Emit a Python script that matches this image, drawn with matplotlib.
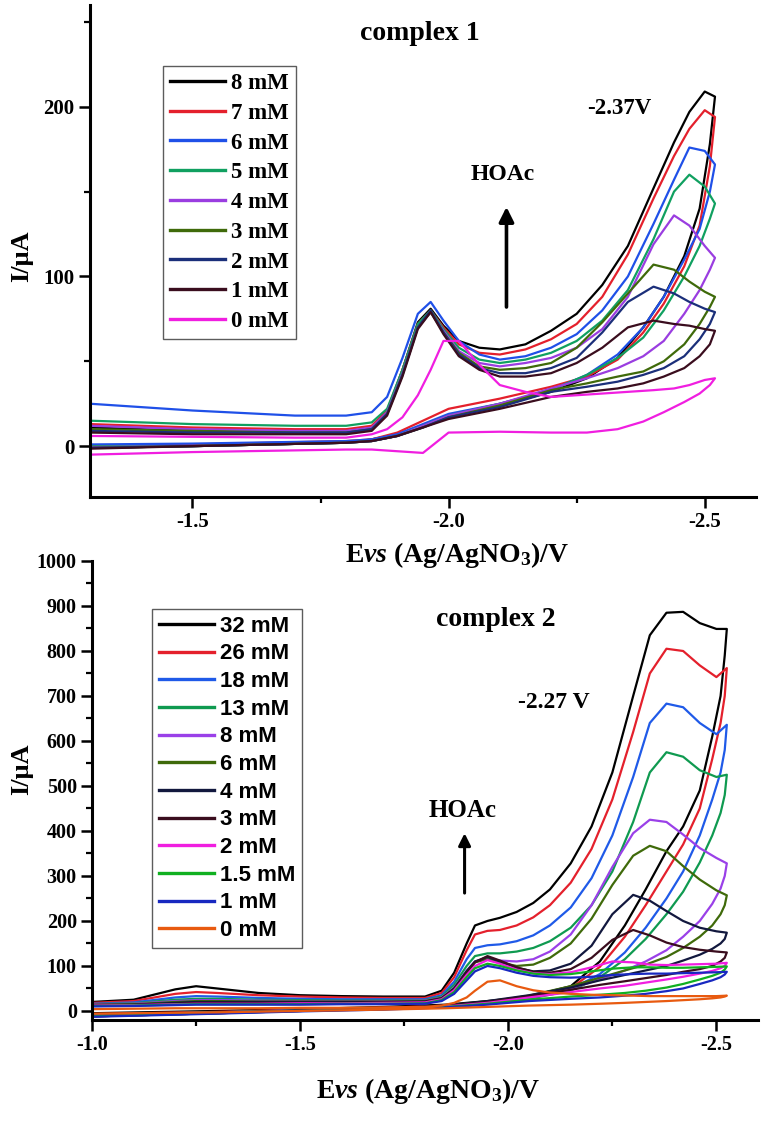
import matplotlib
matplotlib.use("Agg")
import matplotlib.pyplot as plt
from matplotlib.lines import Line2D
from matplotlib.ticker import MultipleLocator, FormatStrFormatter

SERIF = ["Liberation Serif", "DejaVu Serif"]
SANS = ["Liberation Sans", "DejaVu Sans"]

# ---------------- complex 1 (potential grids, V) ----------------
c1_fwd_e = [-1.30, -1.50, -1.70, -1.80, -1.85, -1.88, -1.91, -1.94, -1.965, -1.99, -2.02, -2.06,
            -2.10, -2.15, -2.20, -2.25, -2.30, -2.35, -2.40, -2.44, -2.47, -2.50, -2.52]
c1_rev_e = [-2.52, -2.51, -2.49, -2.46, -2.42, -2.38, -2.33, -2.27, -2.20, -2.10, -2.00, -1.95,
            -1.90, -1.85, -1.80, -1.50, -1.30]

c1_labels = ["8 mM", "7 mM", "6 mM", "5 mM", "4 mM", "3 mM", "2 mM", "1 mM", "0 mM"]
c1_colors = ["#000000", "#e4202c", "#1f50e8", "#10a060", "#9a3de0", "#3f6a0a", "#1b2f7a", "#3a0d1e", "#f01ee0"]

# current, uA (forward = cathodic sweep, reverse = return sweep)
c1_fwd_8 = [11, 9, 8, 8, 10, 20, 45, 73, 81, 71, 62, 58, 57, 60, 68, 78, 95, 118, 152, 179, 197, 209, 206]
c1_fwd_7 = [13, 11, 10, 10, 12, 21, 45, 72, 80, 70, 60, 55, 54, 57, 63, 72, 88, 113, 146, 171, 187, 198, 194]
c1_fwd_6 = [25, 21, 18, 18, 20, 29, 52, 78, 85, 74, 62, 54, 51, 53, 58, 66, 80, 100, 131, 157, 176, 174, 166]
c1_fwd_5 = [15, 13, 12, 12, 14, 22, 45, 72, 80, 69, 58, 51, 49, 51, 55, 62, 74, 92, 122, 150, 160, 153, 143]
c1_fwd_4 = [12, 10, 9, 9, 11, 20, 43, 70, 79, 68, 56, 49, 47, 49, 52, 58, 69, 88, 119, 136, 130, 118, 111]
c1_fwd_3 = [10, 9, 8, 8, 10, 19, 42, 70, 79, 67, 55, 47, 45, 46, 49, 58, 73, 90, 107, 104, 97, 91, 88]
c1_fwd_2 = [9, 8, 8, 8, 10, 19, 42, 70, 80, 67, 54, 46, 43, 43, 46, 52, 67, 85, 94, 90, 85, 81, 79]
c1_fwd_1 = [8, 7, 7, 7, 9, 18, 41, 69, 79, 66, 53, 45, 41, 41, 43, 49, 58, 70, 74, 72, 71, 69, 68]
c1_fwd_0 = [6, 5.5, 5, 5, 7, 10, 17, 30, 45, 62, 62, 48, 36, 32, 29, 30, 31, 32, 33, 34, 36, 39, 40]

c1_rev_8 = [206, 178, 140, 112, 88, 70, 52, 40, 32, 24, 17, 12, 7, 4, 2, 0, -1]
c1_rev_7 = [194, 165, 130, 106, 84, 67, 51, 41, 35, 28, 22, 15, 8, 4, 3, 1, 0]
c1_rev_6 = [166, 150, 128, 110, 88, 70, 54, 42, 33, 25, 19, 13, 7, 4, 3, 1.5, 1]
c1_rev_5 = [143, 134, 118, 100, 80, 64, 52, 42, 33, 25, 18, 12, 6, 3, 2, 0, 0]
c1_rev_4 = [111, 104, 92, 78, 62, 53, 46, 40, 34, 25, 18, 12, 6, 3, 2, 0, -0.5]
c1_rev_3 = [88, 82, 72, 60, 50, 44, 41, 37, 33, 24, 17, 11, 6, 3, 2, 0, -1]
c1_rev_2 = [79, 72, 63, 53, 46, 42, 38, 35, 32, 23, 17, 11, 6, 3, 2, 0, -1]
c1_rev_1 = [68, 60, 53, 46, 41, 37, 34, 32, 29, 22, 16, 11, 6, 3, 2, 0, -1.5]
c1_rev_0 = [40, 36, 31, 26, 20, 14.5, 10, 8, 8, 8.5, 8, -4, -3, -2, -2, -3.5, -5]

# ---------------- complex 2 ----------------
c2_fwd_e = [-1.00, -1.10, -1.20, -1.25, -1.30, -1.40, -1.50, -1.60, -1.70, -1.80, -1.84, -1.87, -1.90,
            -1.92, -1.95, -1.98, -2.02, -2.06, -2.10, -2.15, -2.20, -2.25, -2.30, -2.34, -2.38, -2.42,
            -2.46, -2.50, -2.525]
c2_rev_e = [-2.525, -2.52, -2.51, -2.49, -2.46, -2.42, -2.38, -2.33, -2.28, -2.22, -2.15, -2.05,
            -1.95, -1.85, -1.70, -1.50, -1.30, -1.00]

c2_labels = ["32 mM", "26 mM", "18 mM", "13 mM", "8 mM", "6 mM", "4 mM", "3 mM", "2 mM",
             "1.5 mM", "1 mM", "0 mM"]
c2_colors = ["#000000", "#e4202c", "#1f5ae8", "#0f9a50", "#9a40e8", "#3f6a0a", "#12183e", "#3a0d1e",
             "#f01ee0", "#10b020", "#1828c0", "#e85a10"]

c2_fwd_32 = [20, 25, 48, 55, 50, 40, 35, 33, 32, 32, 45, 85, 150, 190, 200, 207, 220, 240, 270, 328,
             410, 530, 700, 835, 885, 887, 862, 849, 849]
c2_fwd_26 = [18, 22, 38, 42, 40, 35, 32, 30, 29, 29, 40, 75, 135, 170, 178, 180, 190, 208, 235, 285,
             360, 470, 620, 750, 805, 800, 768, 742, 762]
c2_fwd_18 = [16, 19, 30, 33, 32, 29, 27, 26, 26, 26, 35, 65, 115, 140, 146, 148, 155, 168, 190, 230,
             295, 390, 520, 640, 683, 675, 640, 615, 636]
c2_fwd_13 = [15, 17, 25, 27, 27, 25, 24, 23, 23, 24, 32, 58, 100, 122, 128, 128, 132, 140, 155, 185,
             235, 310, 420, 530, 575, 565, 535, 520, 525]
c2_fwd_8 = [15, 16, 22, 24, 24, 23, 22, 22, 22, 23, 30, 52, 90, 110, 117, 112, 110, 115, 132, 170,
            235, 320, 395, 425, 420, 392, 362, 340, 328]
c2_fwd_6 = [14, 15, 20, 22, 22, 21, 21, 21, 21, 22, 29, 50, 88, 108, 115, 108, 100, 103, 118, 150,
            205, 280, 345, 367, 355, 322, 292, 268, 257]
c2_fwd_4 = [13, 14, 18, 20, 20, 20, 20, 20, 20, 21, 28, 50, 88, 110, 120, 110, 96, 88, 90, 105,
            145, 215, 258, 245, 222, 200, 185, 177, 174]
c2_fwd_3 = [12, 13, 16, 18, 18, 18, 18, 18, 19, 20, 27, 48, 85, 108, 122, 112, 97, 87, 85, 93,
            118, 158, 180, 168, 152, 142, 136, 132, 130]
c2_fwd_2 = [12, 13, 15, 16, 16, 16, 17, 17, 18, 19, 26, 46, 80, 100, 113, 105, 92, 84, 82, 86,
            97, 110, 108, 103, 102, 103, 104, 105, 107]
c2_fwd_15 = [11, 12, 14, 15, 15, 15, 15, 16, 16, 17, 24, 42, 75, 95, 105, 100, 90, 83, 80, 82,
             88, 94, 97, 97, 96, 96, 97, 98, 99]
c2_fwd_1 = [10, 11, 13, 14, 14, 14, 14, 15, 15, 16, 22, 38, 68, 88, 100, 95, 85, 78, 75, 74,
            76, 80, 82, 83, 83, 84, 85, 86, 87]
c2_fwd_0 = [4, 5, 6, 6, 6, 6, 7, 7, 8, 9, 12, 18, 30, 45, 65, 68, 55, 46, 41, 38,
            36, 35, 34, 33, 33, 33, 33, 33, 34]

c2_rev_32 = [849, 790, 700, 610, 490, 410, 355, 270, 190, 110, 55, 32, 22, 14, 9, 4, 0, -5]
c2_rev_26 = [762, 700, 640, 560, 450, 370, 310, 235, 165, 98, 50, 30, 20, 12, 7, 3, -2, -7]
c2_rev_18 = [636, 580, 530, 470, 390, 310, 250, 185, 130, 82, 48, 28, 18, 11, 6, 2, -3, -8]
c2_rev_13 = [525, 480, 440, 390, 330, 265, 215, 160, 115, 75, 45, 27, 17, 10, 5, 1, -3, -9]
c2_rev_8 = [328, 300, 272, 238, 200, 165, 135, 110, 90, 70, 50, 30, 18, 10, 5, 1, -4, -10]
c2_rev_6 = [257, 235, 215, 190, 165, 140, 120, 103, 90, 74, 55, 34, 20, 11, 5, 1, -4, -11]
c2_rev_4 = [174, 160, 150, 138, 125, 112, 100, 90, 80, 68, 52, 35, 22, 12, 6, 1, -5, -12]
c2_rev_3 = [130, 118, 110, 100, 93, 87, 80, 73, 66, 58, 47, 33, 20, 11, 5, 0, -5, -12]
c2_rev_2 = [107, 100, 95, 89, 83, 76, 70, 63, 56, 50, 42, 30, 18, 10, 4, 0, -5, -12]
c2_rev_15 = [99, 92, 85, 78, 70, 60, 52, 45, 40, 36, 32, 25, 16, 9, 4, 0, -5, -12]
c2_rev_1 = [87, 81, 75, 68, 60, 50, 44, 38, 34, 30, 27, 22, 14, 8, 3, -1, -6, -13]
c2_rev_0 = [34, 32, 30, 28, 26, 24, 22, 20, 18, 16, 14, 12, 9, 6, 3, 0, -3, -6]


def style_axes(ax, xlim, ylim, ymajor, yminor):
    ax.set_xlim(*xlim)
    ax.set_ylim(*ylim)
    ax.patch.set_alpha(0)
    for side in ("top", "right"):
        ax.spines[side].set_visible(False)
    for side in ("left", "bottom"):
        ax.spines[side].set_linewidth(2.2)
    ax.xaxis.set_major_locator(MultipleLocator(0.5))
    ax.xaxis.set_minor_locator(MultipleLocator(0.25))
    ax.xaxis.set_major_formatter(FormatStrFormatter("%.1f"))
    ax.yaxis.set_major_locator(MultipleLocator(ymajor))
    ax.yaxis.set_minor_locator(MultipleLocator(yminor))
    ax.tick_params(which="major", direction="out", length=8, width=1.8, labelsize=15, pad=3)
    ax.tick_params(which="minor", direction="out", length=4.5, width=1.6)
    for lab in ax.get_xticklabels() + ax.get_yticklabels():
        lab.set_family(SERIF)
        lab.set_fontweight("bold")


def draw_panel(ax, fwd_e, rev_e, fwd, rev, colors):
    handles = []
    for yf, yr, col in zip(fwd, rev, colors):
        ax.plot(fwd_e + rev_e, yf + yr, color=col, lw=1.6, solid_joinstyle="round")
        handles.append(Line2D([], [], color=col, lw=2.4))
    return handles


def main():
    plt.rcParams["font.family"] = SERIF
    plt.rcParams["font.weight"] = "bold"
    plt.rcParams["axes.unicode_minus"] = False
    plt.rcParams["mathtext.fontset"] = "custom"
    plt.rcParams["mathtext.rm"] = "Liberation Serif:bold"
    plt.rcParams["mathtext.it"] = "Liberation Serif:italic:bold"
    plt.rcParams["mathtext.bf"] = "Liberation Serif:bold"

    fig = plt.figure(figsize=(7.65, 11.4), dpi=100)
    ax1 = fig.add_axes([0.1176, 0.5640, 0.8706, 0.4316])
    ax2 = fig.add_axes([0.1203, 0.1053, 0.8706, 0.4026])

    xlabel = r"E$\mathit{vs}$ (Ag/AgNO$_{3}$)/V"

    # ---- complex 1 ----
    c1_fwd = [c1_fwd_8, c1_fwd_7, c1_fwd_6, c1_fwd_5, c1_fwd_4, c1_fwd_3, c1_fwd_2, c1_fwd_1, c1_fwd_0]
    c1_rev = [c1_rev_8, c1_rev_7, c1_rev_6, c1_rev_5, c1_rev_4, c1_rev_3, c1_rev_2, c1_rev_1, c1_rev_0]
    h1 = draw_panel(ax1, c1_fwd_e, c1_rev_e, c1_fwd, c1_rev, c1_colors)
    style_axes(ax1, (-1.3, -2.6), (-30, 260), 100, 50)
    ax1.set_xticks([-1.5, -2.0, -2.5])
    ax1.set_xlabel(xlabel, fontsize=20, fontweight="bold")
    ax1.xaxis.set_label_coords(0.551, -0.087)
    ax1.set_ylabel("I/\u03bcA", fontsize=19, fontweight="bold")
    ax1.yaxis.set_label_coords(-0.086, 0.49)

    leg1 = ax1.legend(h1, c1_labels, loc="upper left", bbox_to_anchor=(-1.443, 224),
                      bbox_transform=ax1.transData, borderaxespad=0, frameon=True,
                      fancybox=False, handlelength=2.4, handletextpad=0.25, labelspacing=0.38,
                      borderpad=0.3, prop={"family": SERIF, "weight": "bold", "size": 16.5})
    leg1.get_frame().set_edgecolor("#333333")
    leg1.get_frame().set_linewidth(1.0)

    ax1.text(-1.943, 243, "complex 1", ha="center", va="center", fontsize=20, fontweight="bold")
    ax1.text(-2.333, 199, "-2.37V", ha="center", va="center", fontsize=16.5, fontweight="bold")
    ax1.text(-2.106, 160, "HOAc", ha="center", va="center", fontsize=17, fontweight="bold")
    ax1.annotate("", xy=(-2.113, 141), xytext=(-2.113, 82),
                 arrowprops=dict(arrowstyle="-|>", color="black", lw=2.6, mutation_scale=22,
                                 shrinkA=0, shrinkB=0))

    # ---- complex 2 ----
    c2_fwd = [c2_fwd_32, c2_fwd_26, c2_fwd_18, c2_fwd_13, c2_fwd_8, c2_fwd_6, c2_fwd_4, c2_fwd_3,
              c2_fwd_2, c2_fwd_15, c2_fwd_1, c2_fwd_0]
    c2_rev = [c2_rev_32, c2_rev_26, c2_rev_18, c2_rev_13, c2_rev_8, c2_rev_6, c2_rev_4, c2_rev_3,
              c2_rev_2, c2_rev_15, c2_rev_1, c2_rev_0]
    h2 = draw_panel(ax2, c2_fwd_e, c2_rev_e, c2_fwd, c2_rev, c2_colors)
    style_axes(ax2, (-1.0, -2.6), (-20, 1000), 100, 50)
    ax2.set_xticks([-1.0, -1.5, -2.0, -2.5])
    ax2.tick_params(which="major", labelsize=14.5)
    ax2.set_xlabel(xlabel, fontsize=20, fontweight="bold")
    ax2.xaxis.set_label_coords(0.505, -0.122)
    ax2.set_ylabel("I/\u03bcA", fontsize=19, fontweight="bold")
    ax2.yaxis.set_label_coords(-0.089, 0.546)

    leg2 = ax2.legend(h2, c2_labels, loc="upper left", bbox_to_anchor=(-1.144, 893),
                      bbox_transform=ax2.transData, borderaxespad=0, frameon=True,
                      fancybox=False, handlelength=2.5, handletextpad=0.25, labelspacing=0.3,
                      borderpad=0.3, prop={"family": SANS, "weight": "bold", "size": 16})
    leg2.get_frame().set_edgecolor("#333333")
    leg2.get_frame().set_linewidth(1.0)

    ax2.text(-1.97, 870, "complex 2", ha="center", va="center", fontsize=20, fontweight="bold")
    ax2.text(-2.11, 685, "-2.27 V", ha="center", va="center", fontsize=17, fontweight="bold")
    ax2.text(-1.89, 445, "HOAc", ha="center", va="center", fontsize=18, fontweight="bold")
    ax2.annotate("", xy=(-1.895, 395), xytext=(-1.895, 262),
                 arrowprops=dict(arrowstyle="-|>", color="black", lw=2.2, mutation_scale=18,
                                 shrinkA=0, shrinkB=0))

    fig.savefig("out.png", dpi=100, facecolor="white")
    plt.close(fig)


if __name__ == "__main__":
    main()
